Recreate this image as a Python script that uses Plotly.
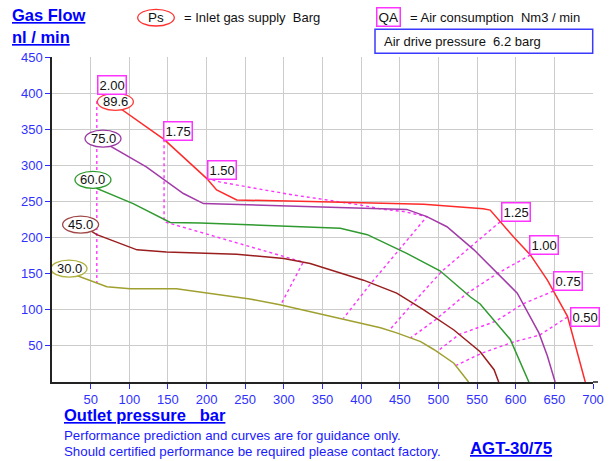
import plotly.graph_objects as go

# ---------------- data ----------------
ps_labels = ["89.6", "75.0", "60.0", "45.0", "30.0"]
ps_colors = ["#ff2a2a", "#a23aa8", "#2f9a2f", "#9a1e1e", "#a0a030"]
ps_edge = ["#ff3b3b", "#9a3aa0", "#2e9a2e", "#a04848", "#b0b040"]

red_x = [82, 88, 145, 200, 213, 239, 334, 481, 558, 567, 597, 619, 641, 667, 690]
red_y = [388, 379, 336, 282, 266, 252, 250, 246, 240, 238, 201, 176, 141, 91, 0]
purple_x = [66, 75, 122, 170, 196, 334, 377, 459, 485, 511, 546, 580, 602, 630, 641, 651]
purple_y = [337, 327, 298, 261, 247, 243, 241, 239, 229, 215, 183, 146, 123, 68, 36, 0]
green_x = [53, 58, 105, 153, 192, 334, 373, 408, 459, 502, 541, 554, 572, 593, 617]
green_y = [280, 268, 247, 221, 220, 215, 213, 204, 178, 154, 118, 108, 86, 59, 0]
brown_x = [37, 58, 110, 148, 239, 300, 334, 403, 446, 481, 520, 554, 572, 578]
brown_y = [218, 204, 183, 180, 177, 171, 164, 141, 123, 100, 72, 42, 17, 0]
olive_x = [22, 23, 71, 101, 161, 256, 295, 382, 425, 446, 477, 494, 520, 539]
olive_y = [157, 151, 132, 129, 129, 115, 107, 86, 75, 68, 56, 45, 26, 0]

curves_x = [red_x, purple_x, green_x, brown_x, olive_x]
curves_y = [red_y, purple_y, green_y, brown_y, olive_y]

# air consumption (QA) iso-lines, Nm3/min
qa_labels = ["2.00", "1.75", "1.50", "1.25", "1.00", "0.75", "0.50"]
qa200_x = [58, 58]
qa200_y = [389, 137]
qa175_x = [145, 145, 325, 296]
qa175_y = [336, 222, 166, 107]
qa150_x = [200, 217, 269, 312, 356, 399, 429, 455, 485, 449, 413, 377]
qa150_y = [282, 277, 267, 259, 252, 245, 239, 236, 229, 183, 137, 88]
qa125_x = [580, 541, 504, 466, 436]
qa125_y = [222, 187, 153, 108, 71]
qa100_x = [619, 576, 536, 496, 464]
qa100_y = [176, 150, 122, 86, 61]
qa075_x = [649, 609, 574, 527, 498]
qa075_y = [126, 108, 84, 66, 42]
qa050_x = [667, 631, 596, 556, 523]
qa050_y = [90, 65, 55, 40, 23]
qa_x = [qa200_x, qa175_x, qa150_x, qa125_x, qa100_x, qa075_x, qa050_x]
qa_y = [qa200_y, qa175_y, qa150_y, qa125_y, qa100_y, qa075_y, qa050_y]

x_ticks = [50, 100, 150, 200, 250, 300, 350, 400, 450, 500, 550, 600, 650, 700]
y_ticks = [50, 100, 150, 200, 250, 300, 350, 400, 450]

# ---------------- layout helpers ----------------
W, H = 609, 461
ML, MR, MT, MB = 52, 16, 57, 79
PW, PH = W - ML - MR, H - MT - MB


def px(x):
    return (x - ML) / PW


def py(y):
    return (H - MB - y) / PH


FONT = "Liberation Sans, Arial, sans-serif"
MAG = "#ff33ff"
BLUE = "#1a1aff"

fig = go.Figure()

for xs, ys in zip(qa_x, qa_y):
    fig.add_trace(go.Scatter(x=xs, y=ys, mode="lines",
                             line=dict(color=MAG, width=1.4, dash="3px,3px"),
                             hoverinfo="skip", showlegend=False))

for xs, ys, c in zip(curves_x, curves_y, ps_colors):
    fig.add_trace(go.Scatter(x=xs, y=ys, mode="lines",
                             line=dict(color=c, width=1.5),
                             hoverinfo="skip", showlegend=False))

shapes = []
annotations = []

# Ps ellipse labels at the start of each curve
for xs, ys, lab, ec in zip(curves_x, curves_y, ps_labels, ps_edge):
    shapes.append(dict(type="circle", xref="x", yref="y", layer="above",
                       xsizemode="pixel", ysizemode="pixel",
                       xanchor=xs[0], yanchor=ys[0],
                       x0=-18, x1=18, y0=-8.5, y1=8.5,
                       line=dict(color=ec, width=1.3), fillcolor="white"))
    annotations.append(dict(x=xs[0], y=ys[0], xref="x", yref="y", text=lab,
                            showarrow=False, font=dict(family=FONT, size=13, color="#111")))

# QA boxes
qa_shift = [(15, 16), (14, 8), (15, 8), (16, 10), (14, 10), (14, 10), (17, 0)]
for xs, ys, lab, (sx, sy) in zip(qa_x, qa_y, qa_labels, qa_shift):
    annotations.append(dict(x=xs[0], y=ys[0], xref="x", yref="y", text=lab,
                            showarrow=False, xshift=sx, yshift=sy,
                            font=dict(family=FONT, size=13, color="#111"),
                            bgcolor="white", bordercolor=MAG, borderwidth=1.5, borderpad=1))

# small extension of the bottom axis line past the last grid line
shapes.append(dict(type="line", xref="paper", yref="paper", x0=1, x1=(598 - ML) / PW,
                   y0=0, y1=0, line=dict(color="#222", width=1.5)))

# titles & legend text
annotations += [
    dict(x=px(10), y=py(15), xref="paper", yref="paper", xanchor="left", yanchor="middle",
         text="<b><u>Gas Flow</u></b>", showarrow=False, font=dict(family=FONT, size=16.5, color="#0000ff")),
    dict(x=px(10), y=py(37), xref="paper", yref="paper", xanchor="left", yanchor="middle",
         text="<b><u>nl / min</u></b>", showarrow=False, font=dict(family=FONT, size=16.5, color="#0000ff")),
    dict(x=px(156), y=py(17.5), xref="paper", yref="paper", xanchor="center", yanchor="middle",
         text="Ps", showarrow=False, font=dict(family=FONT, size=13.5, color="#111")),
    dict(x=px(182), y=py(17.5), xref="paper", yref="paper", xanchor="left", yanchor="middle",
         text="= Inlet gas supply\u00a0\u00a0Barg", showarrow=False, font=dict(family=FONT, size=13, color="#111")),
    dict(x=px(388), y=py(17.5), xref="paper", yref="paper", xanchor="center", yanchor="middle",
         text="QA", showarrow=False, font=dict(family=FONT, size=13.5, color="#111"),
         bordercolor=MAG, borderwidth=1.5, borderpad=1, bgcolor="white"),
    dict(x=px(408), y=py(17.5), xref="paper", yref="paper", xanchor="left", yanchor="middle",
         text="= Air consumption\u00a0\u00a0Nm3 / min", showarrow=False, font=dict(family=FONT, size=13, color="#111")),
    dict(x=px(382), y=py(41.5), xref="paper", yref="paper", xanchor="left", yanchor="middle",
         text="Air drive pressure\u00a0\u00a06.2 barg", showarrow=False, font=dict(family=FONT, size=13, color="#111")),
    dict(x=px(62), y=py(415), xref="paper", yref="paper", xanchor="left", yanchor="middle",
         text="<b><u>Outlet pressure\u00a0\u00a0\u00a0bar</u></b>", showarrow=False,
         font=dict(family=FONT, size=16.5, color="#0000ff")),
    dict(x=px(62), y=py(435.5), xref="paper", yref="paper", xanchor="left", yanchor="middle",
         text="Performance prediction and curves are for guidance only.", showarrow=False,
         font=dict(family=FONT, size=13.3, color=BLUE)),
    dict(x=px(62), y=py(451.5), xref="paper", yref="paper", xanchor="left", yanchor="middle",
         text="Should certified performance be required please contact factory.", showarrow=False,
         font=dict(family=FONT, size=13.3, color=BLUE)),
    dict(x=px(468), y=py(448), xref="paper", yref="paper", xanchor="left", yanchor="middle",
         text="<b><u>AGT-30/75</u></b>", showarrow=False, font=dict(family=FONT, size=16.8, color="#0000ff")),
]

shapes += [
    dict(type="circle", xref="paper", yref="paper", x0=px(137.7), x1=px(174.3), y0=py(26), y1=py(9.3),
         line=dict(color="#ff3030", width=1.3), fillcolor="white", layer="below"),
    dict(type="rect", xref="paper", yref="paper", x0=px(375), x1=px(592.7), y0=py(53.3), y1=py(29.3),
         line=dict(color="#3a3aff", width=1.5), fillcolor="white", layer="below"),
]

fig.update_layout(
    width=W, height=H,
    margin=dict(l=ML, r=MR, t=MT, b=MB, pad=0),
    paper_bgcolor="white", plot_bgcolor="white",
    shapes=shapes, annotations=annotations,
    showlegend=False,
    xaxis=dict(range=[0, 700], tickvals=x_ticks, ticktext=[str(v) for v in x_ticks],
               showgrid=True, gridcolor="#cccccc", gridwidth=1,
               showline=True, linecolor="#222", linewidth=1.5,
               ticks="outside", ticklen=5, tickcolor="#2a2aff", tickwidth=1,
               tickfont=dict(family=FONT, size=13, color="#3030ff"),
               zeroline=False, fixedrange=True, automargin=False),
    yaxis=dict(range=[0, 450], tickvals=y_ticks, ticktext=[str(v) for v in y_ticks],
               showgrid=True, gridcolor="#cccccc", gridwidth=1,
               showline=True, linecolor="#222", linewidth=1.5,
               ticks="outside", ticklen=5, tickcolor="#2a2aff", tickwidth=1,
               tickfont=dict(family=FONT, size=13, color="#3030ff"),
               zeroline=False, fixedrange=True, automargin=False),
)

fig.write_html("out.html", config={"displayModeBar": False},
               post_script="document.body.style.margin='0';document.body.style.padding='0';"
                           "document.documentElement.style.overflow='hidden';")
